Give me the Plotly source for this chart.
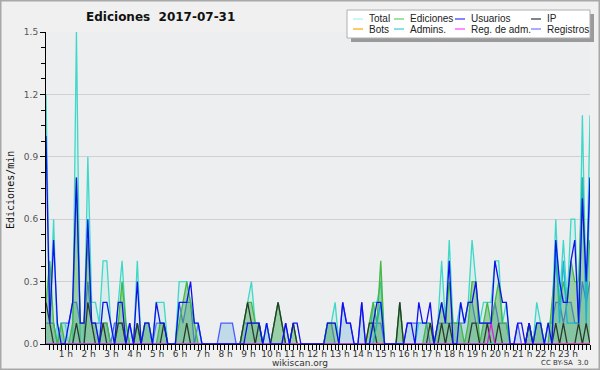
import plotly.graph_objects as go

# 10-minute bins over the day (minutes since 00:00)
minutes = [i * 10 for i in range(144)]

total = [1.2, 0.1, 0.6, 0.0, 0.1, 0.1,
         0.0, 0.0, 1.5, 0.0, 0.0, 0.9,
         0.2, 0.2, 0.1, 0.4, 0.4, 0.1,
         0.0, 0.2, 0.4, 0.1, 0.0, 0.0,
         0.4, 0.0, 0.1, 0.1, 0.0, 0.2,
         0.2, 0.2, 0.0, 0.0, 0.0, 0.3,
         0.3, 0.3, 0.2, 0.1, 0.1, 0.0,
         0.0, 0.0, 0.0, 0.0, 0.0, 0.0,
         0.0, 0.0, 0.0, 0.0, 0.1, 0.2,
         0.3, 0.1, 0.1, 0.0, 0.1, 0.0,
         0.1, 0.2, 0.1, 0.0, 0.0, 0.1,
         0.0, 0.0, 0.0, 0.0, 0.0, 0.0,
         0.0, 0.0, 0.1, 0.1, 0.2, 0.0,
         0.0, 0.0, 0.0, 0.0, 0.0, 0.0,
         0.0, 0.0, 0.2, 0.2, 0.3, 0.0,
         0.0, 0.0, 0.0, 0.2, 0.0, 0.0,
         0.0, 0.0, 0.1, 0.1, 0.1, 0.1,
         0.0, 0.1, 0.4, 0.1, 0.5, 0.1,
         0.1, 0.2, 0.1, 0.2, 0.5, 0.3,
         0.1, 0.2, 0.2, 0.2, 0.4, 0.4,
         0.1, 0.2, 0.0, 0.0, 0.0, 0.0,
         0.0, 0.0, 0.0, 0.2, 0.1, 0.0,
         0.1, 0.1, 0.6, 0.2, 0.5, 0.2,
         0.6, 0.6, 0.1, 1.1, 0.2, 1.1]

ediciones = [0.2, 0.4, 0.1, 0.0, 0.1, 0.0,
             0.0, 0.1, 0.8, 0.1, 0.1, 0.5,
             0.1, 0.1, 0.0, 0.1, 0.1, 0.0,
             0.0, 0.1, 0.3, 0.1, 0.0, 0.0,
             0.1, 0.0, 0.1, 0.1, 0.0, 0.0,
             0.1, 0.1, 0.0, 0.0, 0.0, 0.1,
             0.2, 0.3, 0.2, 0.1, 0.0, 0.0,
             0.0, 0.0, 0.0, 0.0, 0.0, 0.0,
             0.0, 0.0, 0.0, 0.0, 0.1, 0.2,
             0.2, 0.1, 0.1, 0.0, 0.0, 0.0,
             0.1, 0.2, 0.1, 0.0, 0.0, 0.1,
             0.0, 0.0, 0.0, 0.0, 0.0, 0.0,
             0.0, 0.0, 0.1, 0.1, 0.1, 0.0,
             0.0, 0.0, 0.0, 0.0, 0.0, 0.0,
             0.0, 0.1, 0.2, 0.1, 0.4, 0.0,
             0.0, 0.0, 0.0, 0.2, 0.0, 0.0,
             0.0, 0.0, 0.0, 0.0, 0.1, 0.1,
             0.0, 0.1, 0.2, 0.1, 0.3, 0.1,
             0.1, 0.1, 0.0, 0.1, 0.3, 0.3,
             0.0, 0.1, 0.2, 0.1, 0.2, 0.3,
             0.1, 0.1, 0.0, 0.0, 0.0, 0.0,
             0.0, 0.1, 0.0, 0.1, 0.1, 0.0,
             0.0, 0.2, 0.4, 0.2, 0.3, 0.2,
             0.4, 0.3, 0.3, 0.8, 0.3, 0.5]

usuarios = [1.0, 0.1, 0.5, 0.1, 0.0, 0.0,
            0.1, 0.2, 0.8, 0.1, 0.1, 0.6,
            0.1, 0.1, 0.0, 0.2, 0.2, 0.1,
            0.0, 0.2, 0.2, 0.0, 0.1, 0.0,
            0.3, 0.0, 0.1, 0.1, 0.0, 0.2,
            0.1, 0.1, 0.0, 0.0, 0.0, 0.2,
            0.2, 0.2, 0.3, 0.1, 0.1, 0.0,
            0.0, 0.0, 0.0, 0.0, 0.0, 0.0,
            0.0, 0.0, 0.0, 0.0, 0.0, 0.1,
            0.1, 0.1, 0.1, 0.0, 0.1, 0.0,
            0.0, 0.0, 0.0, 0.1, 0.0, 0.1,
            0.1, 0.0, 0.0, 0.0, 0.0, 0.0,
            0.0, 0.0, 0.1, 0.1, 0.1, 0.0,
            0.2, 0.1, 0.1, 0.0, 0.0, 0.2,
            0.0, 0.0, 0.1, 0.2, 0.2, 0.0,
            0.0, 0.0, 0.0, 0.0, 0.0, 0.1,
            0.1, 0.0, 0.2, 0.1, 0.1, 0.2,
            0.0, 0.1, 0.2, 0.1, 0.4, 0.0,
            0.0, 0.2, 0.1, 0.2, 0.2, 0.3,
            0.1, 0.1, 0.1, 0.1, 0.4, 0.3,
            0.2, 0.2, 0.0, 0.0, 0.1, 0.1,
            0.0, 0.1, 0.0, 0.1, 0.1, 0.0,
            0.1, 0.0, 0.5, 0.3, 0.2, 0.2,
            0.4, 0.5, 0.1, 0.7, 0.3, 0.8]

ip = [0.2, 0.1, 0.0, 0.0, 0.0, 0.0,
      0.0, 0.0, 0.1, 0.0, 0.0, 0.2,
      0.1, 0.0, 0.0, 0.1, 0.0, 0.0,
      0.0, 0.1, 0.1, 0.0, 0.0, 0.0,
      0.1, 0.0, 0.0, 0.0, 0.0, 0.0,
      0.0, 0.1, 0.0, 0.0, 0.0, 0.0,
      0.0, 0.1, 0.0, 0.0, 0.0, 0.0,
      0.0, 0.0, 0.0, 0.0, 0.0, 0.0,
      0.0, 0.0, 0.0, 0.0, 0.1, 0.2,
      0.1, 0.0, 0.1, 0.0, 0.0, 0.0,
      0.1, 0.2, 0.1, 0.0, 0.0, 0.1,
      0.0, 0.0, 0.0, 0.0, 0.0, 0.0,
      0.0, 0.0, 0.0, 0.0, 0.0, 0.0,
      0.0, 0.0, 0.0, 0.0, 0.0, 0.0,
      0.0, 0.1, 0.1, 0.0, 0.0, 0.0,
      0.0, 0.0, 0.0, 0.2, 0.0, 0.0,
      0.0, 0.0, 0.0, 0.0, 0.0, 0.1,
      0.0, 0.0, 0.1, 0.0, 0.1, 0.0,
      0.0, 0.0, 0.0, 0.0, 0.1, 0.1,
      0.0, 0.0, 0.1, 0.0, 0.0, 0.1,
      0.0, 0.0, 0.0, 0.0, 0.0, 0.0,
      0.0, 0.1, 0.0, 0.0, 0.0, 0.0,
      0.0, 0.0, 0.1, 0.0, 0.1, 0.0,
      0.0, 0.0, 0.1, 0.0, 0.1, 0.0]

bots = [0.0] * 144

admins = [0.0] * 84 + [0.0, 0.0, 0.0, 0.1, 0.2, 0.0] + [0.0] * 42 + \
         [0.0, 0.0, 0.5, 0.1, 0.4, 0.1, 0.1, 0.1, 0.1, 0.8, 0.1, 0.8]

reg_adm = [0.0] * 117 + [0.1] + [0.0] * 26

registros = [0.1, 0.1, 0.1, 0.0, 0.1, 0.1,
             0.1, 0.2, 0.2, 0.1, 0.1, 0.3,
             0.1, 0.1, 0.1, 0.1, 0.1, 0.0,
             0.1, 0.1, 0.1, 0.0, 0.1, 0.0,
             0.1, 0.0, 0.1, 0.1, 0.0, 0.1,
             0.1, 0.1, 0.0, 0.0, 0.0, 0.2,
             0.1, 0.2, 0.2, 0.0, 0.1, 0.0,
             0.0, 0.0, 0.0, 0.0, 0.1, 0.1,
             0.1, 0.1, 0.0, 0.0, 0.1, 0.1,
             0.1, 0.1, 0.1, 0.0, 0.1, 0.0,
             0.0, 0.0, 0.0, 0.1, 0.0, 0.0,
             0.0, 0.0, 0.0, 0.0, 0.0, 0.0,
             0.0, 0.0, 0.1, 0.1, 0.0, 0.0,
             0.2, 0.1, 0.1, 0.0, 0.0, 0.2,
             0.0, 0.0, 0.1, 0.1, 0.1, 0.0,
             0.0, 0.0, 0.0, 0.0, 0.0, 0.1,
             0.1, 0.1, 0.1, 0.1, 0.1, 0.0,
             0.0, 0.1, 0.1, 0.1, 0.1, 0.1,
             0.1, 0.1, 0.1, 0.2, 0.2, 0.1,
             0.1, 0.1, 0.1, 0.1, 0.2, 0.1,
             0.1, 0.1, 0.0, 0.0, 0.1, 0.0,
             0.0, 0.1, 0.0, 0.1, 0.1, 0.0,
             0.1, 0.1, 0.2, 0.2, 0.1, 0.2,
             0.2, 0.1, 0.1, 0.3, 0.2, 0.3]

hour_vals = [h * 60 for h in range(1, 24)]
hour_text = [f"{h} h" for h in range(1, 24)]
minor_vals = [m for m in minutes if m % 60 != 0]
y_ticks = [0.0, 0.3, 0.6, 0.9, 1.2, 1.5]

legend_items = [("Total", "#aaeeee"), ("Ediciones", "#66cc66"), ("Usuarios", "#3333ff"), ("IP", "#333333"),
                ("Bots", "#ffa500"), ("Admins.", "#33ccdd"), ("Reg. de adm.", "#ff44ff"), ("Registros", "#7777ff")]

# plot area in pixels
L, R, T, B = 46, 590, 32, 344
W, H = 600, 370


def px(x):
    return (x - L) / (R - L)


def py(y):
    return (B - y) / (B - T)


fig = go.Figure()

fig.add_trace(go.Scatter(x=minutes, y=registros, name="Registros", mode="lines",
                         line=dict(color="#4a5cff", width=1.3),
                         fill="tozeroy", fillcolor="rgba(165,205,225,0.6)"))
fig.add_trace(go.Scatter(x=minutes, y=total, name="Total", mode="lines",
                         line=dict(color="#3ed8c8", width=1.3),
                         fill="tozeroy", fillcolor="rgba(150,225,215,0.18)"))
fig.add_trace(go.Scatter(x=minutes, y=ediciones, name="Ediciones", mode="lines",
                         line=dict(color="#44b844", width=1.3),
                         fill="tozeroy", fillcolor="rgba(50,160,60,0.38)"))
fig.add_trace(go.Scatter(x=minutes, y=ip, name="IP", mode="lines",
                         line=dict(color="#2a3a2a", width=1.3)))
fig.add_trace(go.Scatter(x=minutes, y=bots, name="Bots", mode="lines",
                         line=dict(color="#ffa500", width=1.3)))
fig.add_trace(go.Scatter(x=minutes, y=admins, name="Admins.", mode="lines",
                         line=dict(color="#18b4d0", width=1.3)))
fig.add_trace(go.Scatter(x=minutes, y=reg_adm, name="Reg. de adm.", mode="lines",
                         line=dict(color="#dd22dd", width=1.3)))
fig.add_trace(go.Scatter(x=minutes, y=usuarios, name="Usuarios", mode="lines",
                         line=dict(color="#1010ee", width=1.3)))

shapes = []
annotations = []

# outer frame
shapes.append(dict(type="rect", xref="paper", yref="paper",
                   x0=px(0.5), x1=px(W - 0.5), y0=py(H - 0.5), y1=py(0.5),
                   line=dict(color="#a8a8a8", width=2), layer="below"))

# legend box with shadow
bx0, bx1, by0, by1 = 347, 590, 10, 38
shapes.append(dict(type="rect", xref="paper", yref="paper",
                   x0=px(bx0 + 4), x1=px(bx1 + 4), y0=py(by1 + 4), y1=py(by0 + 4),
                   fillcolor="#9a9a9a", line=dict(width=0), layer="above"))
shapes.append(dict(type="rect", xref="paper", yref="paper",
                   x0=px(bx0), x1=px(bx1), y0=py(by1), y1=py(by0),
                   fillcolor="#ffffff", line=dict(color="#b0b0b0", width=1), layer="above"))
text_x = [367, 408, 469, 545]
row_y = [19, 29]
for k, (name, col) in enumerate(legend_items):
    tx = text_x[k % 4]
    ry = row_y[k // 4]
    shapes.append(dict(type="line", xref="paper", yref="paper",
                       x0=px(tx - 14), x1=px(tx - 4), y0=py(ry), y1=py(ry),
                       line=dict(color=col, width=1.2), layer="above"))
    annotations.append(dict(text=name, xref="paper", yref="paper",
                            x=px(tx), y=py(ry), xanchor="left", yanchor="middle",
                            showarrow=False,
                            font=dict(family="Liberation Sans, Arial, sans-serif", size=10, color="#222")))

annotations.append(dict(text="<b>Ediciones  2017-07-31</b>", xref="paper", yref="paper",
                        x=px(160), y=py(17), xanchor="center", yanchor="middle", showarrow=False,
                        font=dict(family="DejaVu Sans, Verdana, sans-serif", size=12, color="#111")))
annotations.append(dict(text="Ediciones/min", xref="paper", yref="paper",
                        x=px(10), y=py(190), xanchor="center", yanchor="middle", showarrow=False,
                        textangle=-90,
                        font=dict(family="DejaVu Sans Mono, monospace", size=10, color="#111")))
annotations.append(dict(text="wikiscan.org", xref="paper", yref="paper",
                        x=px(300), y=py(363), xanchor="center", yanchor="middle", showarrow=False,
                        font=dict(family="DejaVu Sans, Verdana, sans-serif", size=9, color="#333")))
annotations.append(dict(text="CC BY-SA  3.0", xref="paper", yref="paper",
                        x=px(590), y=py(363), xanchor="right", yanchor="middle", showarrow=False,
                        font=dict(family="DejaVu Sans, Verdana, sans-serif", size=7, color="#333")))

fig.update_layout(
    width=W, height=H,
    margin=dict(l=L, r=W - R, t=T, b=H - B, pad=0),
    paper_bgcolor="#f0f0f0",
    plot_bgcolor="#eceef0",
    showlegend=False,
    shapes=shapes,
    annotations=annotations,
    xaxis=dict(range=[0, 1430], tickmode="array", tickvals=hour_vals, ticktext=hour_text,
               ticks="outside", ticklen=5, tickcolor="#000", tickwidth=1,
               showgrid=False, zeroline=False, showline=True, linecolor="#000", linewidth=1,
               tickfont=dict(family="DejaVu Sans, Verdana, sans-serif", size=9, color="#333"),
               ticklabelshift=-3, ticklabelstandoff=-4,
               minor=dict(tickmode="array", tickvals=minor_vals, ticks="outside", ticklen=5,
                          tickcolor="#000", showgrid=False),
               fixedrange=True),
    yaxis=dict(range=[0, 1.5], tickmode="array", tickvals=y_ticks, tickformat=".1f",
               ticks="outside", ticklen=5, tickcolor="#000",
               showgrid=True, gridcolor="#cfd0d2", gridwidth=1, zeroline=False,
               showline=True, linecolor="#000", linewidth=1,
               tickfont=dict(family="DejaVu Sans, Verdana, sans-serif", size=9, color="#555"),
               minor=dict(dtick=0.075, tick0=0, ticks="outside", ticklen=4, tickcolor="#000", showgrid=False),
               fixedrange=True),
)

fig.write_html("out.html", config={"displayModeBar": False},
               post_script="document.body.style.margin='0';document.body.style.overflow='hidden';")
